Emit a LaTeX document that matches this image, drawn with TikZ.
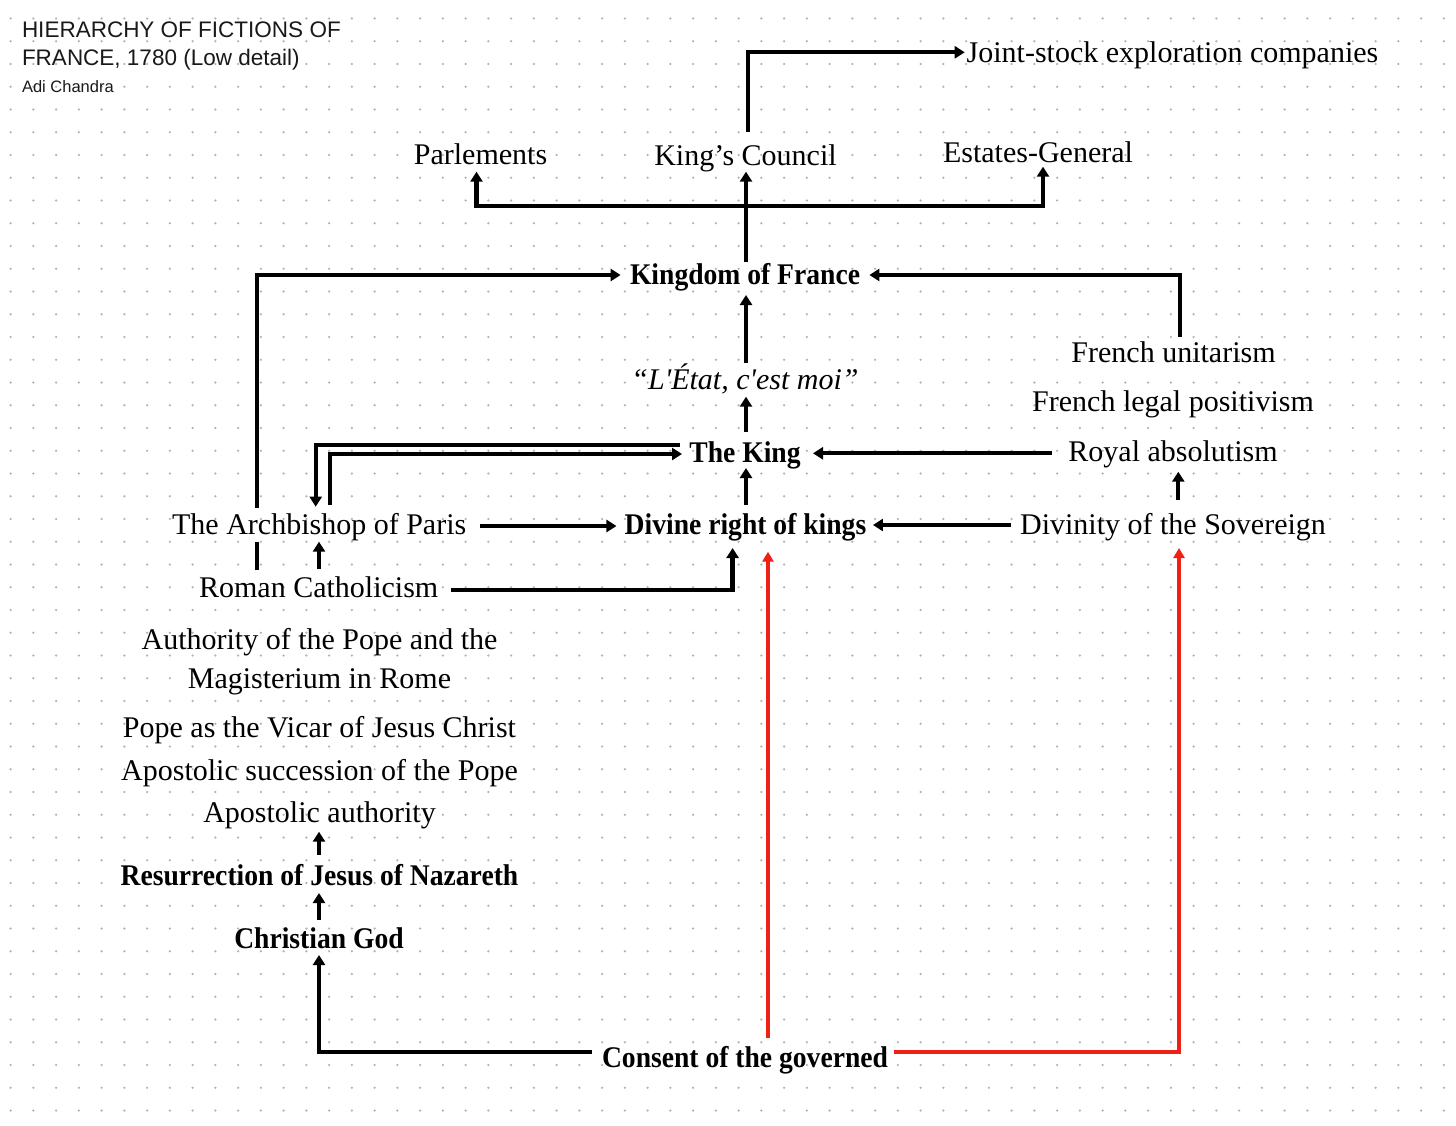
\documentclass[tikz,border=0pt]{standalone}
\usepackage{fontspec}
\setmainfont{Liberation Serif}
\newfontfamily\titlefont{Liberation Sans}
\newfontfamily\bcond[FakeStretch=0.92]{Liberation Serif}
\newfontfamily\itnolig[Ligatures=TeXOff]{Liberation Serif}
\usetikzlibrary{arrows.meta,calc}
\definecolor{dotc}{RGB}{178,178,184}
\definecolor{redc}{RGB}{240,32,20}
\begin{document}
\begin{tikzpicture}[x=1pt,y=-1pt,
  every node/.style={inner sep=0pt, outer sep=0pt},
  reg/.style={font=\fontsize{30}{39}\selectfont, anchor=base},
  bld/.style={font=\bcond\bfseries\fontsize{30}{36}\selectfont, anchor=base},
  arr/.style={line width=4.3pt, -{Triangle[length=10pt,width=12pt]}},
  plainline/.style={line width=4.3pt},
  redarr/.style={draw=redc, line width=3.5pt, -{Triangle[length=10pt,width=11pt]}}]

\fill[white] (0,0) rectangle (1456,1126);
\useasboundingbox (0,0) rectangle (1456,1126);
\foreach \i in {0,...,63}{
  \foreach \j in {0,...,48}{
    \fill[dotc] (10.6+22.75*\i, 18.5+22.75*\j) circle (1.25);
  }
}

% title
\node[font=\titlefont\fontsize{22.5}{28}\selectfont, align=left, anchor=north west, text=black!90] (title) at (22,21.6) {HIERARCHY OF FICTIONS OF\\FRANCE, 1780 (Low detail)};
\node[font=\titlefont\fontsize{16.5}{20}\selectfont, anchor=base west, text=black!90] (author) at (22,92.7) {Adi Chandra};

% nodes
\node[reg] (js) at (1172.5,63) {Joint-stock exploration companies};
\node[reg] (parl) at (480.5,164.8) {Parlements};
\node[reg] (kc) at (745.5,165.5) {King’s Council};
\node[reg] (eg) at (1038,163) {Estates-General};
\node[bld] (kf) at (745,284.3) {Kingdom of France};
\node[reg] (fu) at (1173.5,362) {French unitarism};
\node[font=\itnolig\itshape\fontsize{30}{36}\selectfont, anchor=base] (etat) at (745,389.3) {“L'État, c'est moi”};
\node[reg] (flp) at (1173,411.5) {French legal positivism};
\node[bld] (king) at (745,462.2) {The King};
\node[reg] (ra) at (1173,461) {Royal absolutism};
\node[reg] (arch) at (319.2,534) {The Archbishop of Paris};
\node[bld] (drk) at (745.5,534) {Divine right of kings};
\node[reg] (div) at (1173,534) {Divinity of the Sovereign};
\node[reg] (rc) at (318.7,597.2) {Roman Catholicism};
\node[font=\fontsize{30}{39}\selectfont, align=center, anchor=north] (auth) at (319.5,628.3) {Authority of the Pope and the\\Magisterium in Rome};
\node[reg] (pv) at (319.5,737) {Pope as the Vicar of Jesus Christ};
\node[reg] (as) at (319.5,780.5) {Apostolic succession of the Pope};
\node[reg] (aa) at (319.5,822.5) {Apostolic authority};
\node[bld] (res) at (319.5,885.5) {Resurrection of Jesus of Nazareth};
\node[bld] (cg) at (319,948) {Christian God};
\node[bld] (cons) at (745,1067) {Consent of the governed};

% connectors
\draw[arr] ($(kc.base)+(2.5,-33.5)$) |- ($(js.base west)+(-2,-10.7)$);
\draw[arr] ($(kf.base)+(1,-22.6)$) -- ($(kc.base)+(0.5,6.2)$);
\coordinate (bar) at ($(kf.base)+(1,-78.3)$);
\draw[arr] (bar) -| ($(parl.base)+(-4,6.9)$);
\draw[arr] (bar) -| ($(eg.base)+(5,3.7)$);
\draw[arr] ($(etat.base)+(1,-26.3)$) -- ($(kf.base)+(1,10.7)$);
\draw[arr] ($(king.base)+(1,-30.5)$) -- ($(etat.base)+(1,7.4)$);
\draw[arr] ($(drk.base)+(0.5,-29)$) -- ($(king.base)+(1,5.8)$);
\draw[arr] ($(fu.base)+(6.5,-25.3)$) |- ($(kf.base east)+(9.4,-9.3)$);
\draw[plainline] ($(rc.base)+(-61.7,-27.2)$) -- ($(arch.base)+(-62.2,7.7)$);
\draw[arr] ($(arch.base)+(-62.2,-25.7)$) |- ($(kf.base west)+(-9.4,-9.3)$);
\draw[arr] ($(king.base west)+(-9,-17.2)$) -| ($(arch.base)+(-3.5,-27.3)$);
\draw[arr] ($(arch.base)+(10.8,-29)$) |- ($(king.base west)+(-7.4,-8.2)$);
\draw[arr] ($(arch.base east)+(13.3,-8)$) -- ($(drk.base west)+(-8.3,-8)$);
\draw[arr] ($(rc.base)+(0.3,-27.9)$) -- ($(arch.base)+(-0.2,7.7)$);
\draw[arr] ($(rc.base east)+(12.7,-7.2)$) -| ($(drk.base)+(-12.9,14)$);
\draw[arr] ($(ra.base west)+(-16,-7.7)$) -- ($(king.base east)+(12.4,-8.9)$);
\draw[arr] ($(div.base west)+(-8.7,-9)$) -- ($(drk.base east)+(6.7,-9)$);
\draw[arr] ($(div.base)+(5.3,-34)$) -- ($(ra.base)+(5.3,10.7)$);
\draw[arr] ($(res.base)+(-0.5,-30.5)$) -- ($(aa.base)+(-0.5,9.2)$);
\draw[arr] ($(cg.base)+(0,-28)$) -- ($(res.base)+(-0.5,7.5)$);
\draw[arr] ($(cons.base west)+(-10,-15)$) -| ($(cg.base)+(0,7)$);
\draw[redarr] ($(cons.base)+(23,-29)$) -- ($(drk.base)+(22.5,17.7)$);
\draw[redarr] ($(cons.base east)+(6,-15)$) -| ($(div.base)+(6,14)$);
\end{tikzpicture}
\end{document}
